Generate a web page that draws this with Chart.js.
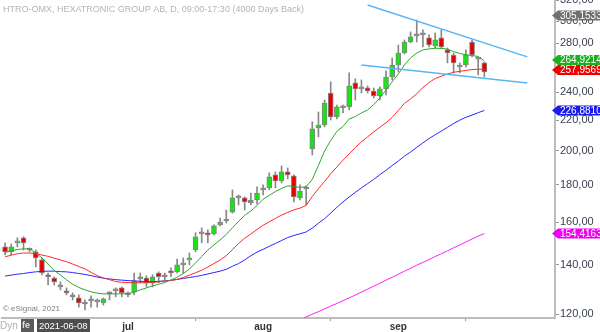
<!DOCTYPE html>
<html>
<head>
<meta charset="utf-8">
<script src="https://cdn.jsdelivr.net/npm/chart.js@4.4.1/dist/chart.umd.min.js"></script>
<style>
  html, body { margin: 0; padding: 0; background: #ffffff; }
  #wrap { position: relative; width: 600px; height: 332px; overflow: hidden; }
  canvas { display: block; }
</style>
</head>
<body>
<div id="wrap"><canvas id="c" width="600" height="332"></canvas></div>
<script>
// Trading days (the last eleven are empty space to the right of the last bar)
const dates = [
  '2021-06-02','2021-06-03','2021-06-04','2021-06-07','2021-06-08','2021-06-09','2021-06-10','2021-06-11',
  '2021-06-14','2021-06-15','2021-06-16','2021-06-17','2021-06-18','2021-06-21','2021-06-22','2021-06-23',
  '2021-06-24','2021-06-28','2021-06-29','2021-06-30',
  '2021-07-01','2021-07-02','2021-07-05','2021-07-06','2021-07-07','2021-07-08','2021-07-09','2021-07-12',
  '2021-07-13','2021-07-14','2021-07-15','2021-07-16','2021-07-19','2021-07-20','2021-07-21','2021-07-22',
  '2021-07-23','2021-07-26','2021-07-27','2021-07-28','2021-07-29','2021-07-30',
  '2021-08-02','2021-08-03','2021-08-04','2021-08-05','2021-08-06','2021-08-09','2021-08-10','2021-08-11',
  '2021-08-12','2021-08-13','2021-08-16','2021-08-17','2021-08-18','2021-08-19','2021-08-20','2021-08-23',
  '2021-08-24','2021-08-25','2021-08-26','2021-08-27','2021-08-30','2021-08-31',
  '2021-09-01','2021-09-02','2021-09-03','2021-09-06','2021-09-07','2021-09-08','2021-09-09','2021-09-10',
  '2021-09-13','2021-09-14','2021-09-15','2021-09-16','2021-09-17','2021-09-20','2021-09-21',
  '2021-09-22','2021-09-23','2021-09-24','2021-09-27','2021-09-28','2021-09-29','2021-09-30',
  '2021-10-01','2021-10-04','2021-10-05','2021-10-06'
];

const opens = [
  148.1,145.8,150.0,152.4,146.7,145.8,142.2,135.7,134.4,130.7,129.1,126.7,126.3,123.9,125.1,124.7,124.3,127.9,129.1,130.3,
  127.5,128.7,134.0,134.4,132.4,136.5,134.9,137.4,137.0,140.0,142.2,146.7,154.3,154.8,154.3,158.7,160.6,165.1,172.6,172.6,169.9,171.5,
  177.0,178.1,185.5,182.0,187.2,184.9,172.6,177.5,201.1,214.8,216.8,239.6,222.3,228.7,229.4,247.3,242.7,243.4,241.1,237.4,242.7,251.9,
  261.5,271.5,281.0,286.4,287.3,284.6,277.6,284.6,274.1,269.8,259.9,261.5,281.0,266.4,263.2
];
const highs = [
  150.0,149.5,152.4,152.9,147.6,146.7,143.1,136.5,134.9,132.8,130.3,128.3,127.5,125.5,127.1,125.9,126.3,128.7,130.3,130.7,
  128.7,136.5,136.5,135.3,135.7,137.0,136.5,138.7,142.6,143.1,145.3,154.8,157.2,156.2,158.7,162.1,166.2,177.0,174.2,173.1,175.3,178.7,
  179.8,186.7,187.2,190.8,189.6,185.5,179.8,179.2,219.0,225.8,234.4,248.1,230.8,230.8,255.1,250.4,249.6,245.0,243.4,244.2,256.7,267.3,
  278.4,282.8,290.0,301.0,291.8,287.3,289.1,291.8,275.8,271.5,263.2,274.1,282.8,267.3,264.0
];
const lows = [
  144.5,144.5,148.1,146.7,145.8,139.1,135.7,131.5,131.5,129.5,127.5,125.5,122.7,121.6,122.7,122.7,123.5,125.5,126.7,126.7,
  126.7,127.5,132.4,130.7,130.7,132.4,133.6,134.9,136.5,136.5,140.0,145.8,150.0,150.0,153.8,158.2,159.6,164.6,168.9,166.2,168.9,169.4,
  174.2,177.0,178.1,180.9,183.2,170.4,171.5,168.9,197.4,208.9,215.5,220.2,220.9,225.1,227.2,234.4,239.6,239.6,235.9,234.4,238.1,249.6,
  255.9,270.7,280.2,281.0,276.7,276.7,275.8,275.8,263.2,255.1,255.1,259.9,268.1,253.5,251.9
];
const closes = [
  145.8,148.1,150.9,150.0,146.7,143.1,136.5,134.9,132.8,130.7,128.3,126.7,124.3,123.9,125.1,124.7,125.9,127.9,129.1,128.3,
  127.5,133.2,134.0,132.4,134.9,134.9,134.9,136.5,140.0,140.0,143.1,152.9,154.3,153.8,158.2,160.1,160.6,172.6,172.6,170.4,171.5,175.3,
  177.0,184.3,182.0,187.2,185.5,173.1,176.4,177.5,214.2,216.8,232.2,222.3,229.4,228.7,245.0,242.7,242.7,241.1,237.4,242.7,251.9,261.5,
  271.5,281.0,285.5,286.4,287.3,278.4,282.8,276.7,271.5,263.2,259.9,269.8,269.8,266.4,255.9
];

// Moving averages
const maFast = [
  145.6,146.3,146.9,147.2,147.2,145.3,143.1,140.4,137.6,135.7,133.6,131.8,130.5,129.5,128.7,128.2,127.9,127.9,127.9,127.9,
  128.0,128.5,129.5,130.3,131.1,131.8,132.5,133.6,134.7,136.3,138.2,140.9,143.7,146.7,149.0,151.4,154.0,157.2,160.4,163.5,165.7,168.6,
  171.9,174.0,176.1,177.8,179.3,178.8,178.4,178.7,182.9,191.1,199.9,206.6,212.5,215.8,220.9,222.6,225.1,227.2,231.1,235.9,241.9,248.1,
  254.3,261.5,267.3,271.5,274.1,275.0,275.6,275.4,274.8,272.6,271.1,270.0,269.4,268.5,264.9214
];
const maMid = [
  143.6,144.3,145.0,145.3,145.3,145.0,144.4,143.8,143.0,142.2,141.4,140.4,139.3,138.3,136.8,135.4,134.4,133.7,132.9,132.6,
  132.5,132.4,132.4,132.4,132.5,132.8,133.1,133.4,133.8,134.6,135.6,136.6,137.7,139.1,140.6,142.2,144.1,146.8,149.7,152.2,154.2,156.4,
  158.5,160.2,161.9,163.6,165.0,166.3,167.2,168.6,173.4,177.7,181.7,186.2,190.1,194.2,198.1,202.0,205.7,208.9,212.2,215.3,218.3,222.0,
  226.8,232.0,235.2,239.0,243.8,247.5,250.7,252.5,254.2,255.6,256.4,257.1,257.8,258.1,257.9569
];
const maSlow = [
  135.2,135.6,136.0,136.3,136.7,137.0,137.2,137.3,137.3,137.1,137.0,136.7,136.3,135.9,135.4,134.8,134.3,134.0,133.7,133.5,
  133.3,133.2,133.0,132.9,132.8,133.0,133.2,133.4,133.8,134.2,134.6,135.0,135.5,136.1,136.7,137.3,138.1,139.4,140.6,142.2,144.1,145.7,
  147.0,148.4,149.7,151.1,152.5,153.5,154.3,155.2,157.1,159.5,161.8,164.6,167.6,170.5,173.1,175.6,178.1,180.5,182.9,185.6,188.2,191.0,
  193.7,196.7,199.3,202.1,205.0,207.8,210.3,212.7,215.3,217.8,220.1,222.1,223.6,225.3,226.8810
];
// Long average: visible from 2021-08-10 onwards
const maLongFrom = '2021-08-10';
const maLong = [
  117.9,119.0,120.0,121.0,122.0,123.1,124.1,125.2,126.3,127.4,128.6,129.8,131.0,132.2,133.5,134.7,
  136.0,137.3,138.5,139.9,141.1,142.4,143.7,145.0,146.3,147.7,149.0,150.4,151.8,153.2,154.4163
];

// Hand-drawn trend channel: [date, price] end points
const trendUpper = [['2021-08-25', 315.5], ['2021-09-30', 268.2]];
const trendLower = [['2021-08-24', 261.5], ['2021-09-30', 247.2]];

// Price axis
const priceTicks = [120, 140, 160, 180, 200, 220, 240, 260, 280, 300, 320];
const priceMin = 118.6, priceMax = 320.4;

// Right-edge value markers
const refMarkerValue = 305.1533;
const markerValues = [refMarkerValue, maFast[maFast.length - 1], maMid[maMid.length - 1],
                      maSlow[maSlow.length - 1], maLong[maLong.length - 1]];
const markerColors = ['#6f6f6f', '#1cb01c', '#f20000', '#1a1af0', '#f000f0'];

const monthNames = { '07': 'jul', '08': 'aug', '09': 'sep' };
const titleText = 'HTRO-OMX, HEXATRONIC GROUP AB, D, 09:00-17:30 (4000 Days Back)';
const FONT = '"Liberation Sans", Arial, sans-serif';

// first trading day of each month among the bars
const monthStarts = [];
for (let i = 1; i < closes.length; i++) {
  if (dates[i].slice(5, 7) !== dates[i - 1].slice(5, 7)) monthStarts.push(i);
}

const bodyColors = opens.map((o, i) => closes[i] > o ? '#14e614' : (closes[i] < o ? '#ea0000' : '#8a8a8a'));
const longStart = dates.indexOf(maLongFrom);

const fmt = (v, d) => v.toFixed(d).replace('.', ',');

const overlay = {
  id: 'overlay',
  afterDraw(chart) {
    const c = chart.ctx;
    const ys = chart.scales.y;
    c.save();
    c.textBaseline = 'middle';
    c.textAlign = 'left';

    // heading and copyright
    c.font = '9px ' + FONT;
    c.fillStyle = '#b4b4b4';
    c.fillText(titleText, 3, 10);
    c.font = '8px ' + FONT;
    c.fillStyle = '#808080';
    c.fillText('\u00a9 eSignal, 2021', 3, 309);

    // value markers on the price axis
    const tags = markerValues.map((v, i) => ({ v, y: ys.getPixelForValue(v), color: markerColors[i] }));
    tags.sort((a, b) => a.y - b.y);
    for (let i = 1; i < tags.length; i++) {
      const gap = tags[i].y - tags[i - 1].y;
      if (gap < 10) {
        const d = (10 - gap) / 2;
        tags[i - 1].y -= d;
        tags[i].y += d;
      }
    }
    c.font = '10px ' + FONT;
    tags.forEach(t => {
      c.fillStyle = t.color;
      c.beginPath();
      c.moveTo(552, t.y);
      c.lineTo(558, t.y - 5);
      c.lineTo(600, t.y - 5);
      c.lineTo(600, t.y + 5);
      c.lineTo(558, t.y + 5);
      c.closePath();
      c.fill();
      c.fillStyle = '#ffffff';
      c.fillText(fmt(t.v, 4), 560, t.y + 0.5);
    });

    // bottom-left status strip
    c.font = '10px ' + FONT;
    c.fillStyle = '#b0b0b0';
    c.fillText('Dyn', 0, 326);
    c.fillStyle = '#5a5a5a';
    c.fillRect(21, 319, 13, 13);
    c.fillStyle = '#e0e0e0';
    c.font = 'bold 9px ' + FONT;
    c.fillText('fe', 22, 326);
    c.fillStyle = '#4e4e4e';
    c.fillRect(37, 319, 53, 13);
    c.fillStyle = '#ffffff';
    c.font = '9.5px ' + FONT;
    c.fillText(dates[4], 39, 326);
    c.restore();
  }
};

new Chart(document.getElementById('c'), {
  type: 'bar',
  data: {
    labels: dates,
    datasets: [
      { type: 'line', data: trendUpper.map(([d, v]) => ({ x: d, y: v })), borderColor: '#5ab6f4',
        borderWidth: 1.5, pointRadius: 0, order: 0 },
      { type: 'line', data: trendLower.map(([d, v]) => ({ x: d, y: v })), borderColor: '#5ab6f4',
        borderWidth: 1.5, pointRadius: 0, order: 0 },
      { type: 'line', data: maFast, borderColor: '#2ca82c', borderWidth: 1, pointRadius: 0, order: 1 },
      { type: 'line', data: maMid, borderColor: '#ff2a2a', borderWidth: 1, pointRadius: 0, order: 1 },
      { type: 'line', data: maSlow, borderColor: '#2828ff', borderWidth: 1, pointRadius: 0, order: 1 },
      { type: 'line', data: maLong.map((v, i) => ({ x: dates[longStart + i], y: v })), borderColor: '#ff1eff',
        borderWidth: 1, pointRadius: 0, order: 1 },
      { data: opens.map((o, i) => [o, closes[i]]), backgroundColor: bodyColors, borderColor: '#848484',
        borderWidth: 1, borderSkipped: false, barThickness: 5, minBarLength: 2, grouped: false, order: 5 },
      { data: lows.map((l, i) => [l, highs[i]]), backgroundColor: '#888888', barThickness: 1,
        grouped: false, order: 6 }
    ]
  },
  options: {
    responsive: false,
    animation: false,
    events: [],
    layout: { padding: { left: 2, top: 0, right: 0, bottom: 0 } },
    plugins: { legend: { display: false }, tooltip: { enabled: false } },
    scales: {
      x: {
        type: 'category',
        offset: true,
        grid: { display: true, drawOnChartArea: false, drawTicks: true, tickLength: 3, color: '#9a9a9a' },
        border: { display: true, color: '#bdbdbd', width: 2 },
        ticks: {
          autoSkip: false, maxRotation: 0, padding: 0, color: '#333333',
          font: { family: FONT, size: 10, weight: 'bold' },
          callback: (v) => monthNames[dates[v].slice(5, 7)]
        },
        afterBuildTicks(scale) { scale.ticks = monthStarts.map(i => ({ value: i })); },
        afterFit(scale) {
          scale.height = 14;
          scale.paddingLeft = 0; scale.paddingRight = 0;
        }
      },
      y: {
        type: 'logarithmic',
        position: 'right',
        min: priceMin,
        max: priceMax,
        grid: { display: true, drawOnChartArea: false, drawTicks: true, tickLength: 4, color: '#9a9a9a' },
        border: { display: true, color: '#bdbdbd', width: 2 },
        ticks: {
          padding: 1, color: '#3a4152',
          font: { family: FONT, size: 11 },
          callback: (v) => fmt(v, 2)
        },
        afterBuildTicks(scale) { scale.ticks = priceTicks.map(v => ({ value: v })); },
        afterFit(scale) {
          scale.width = 45;
          scale.paddingTop = 0; scale.paddingBottom = 0;
        }
      }
    }
  },
  plugins: [overlay]
});
</script>
</body>
</html>
